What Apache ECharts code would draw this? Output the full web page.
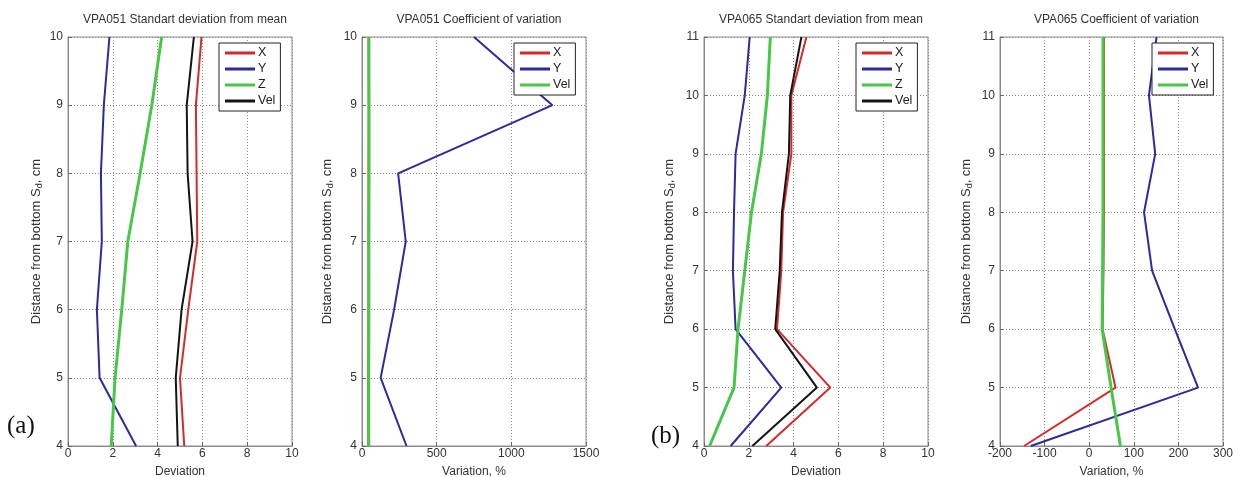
<!DOCTYPE html>
<html>
<head>
<meta charset="utf-8">
<script src="https://cdn.jsdelivr.net/npm/echarts@6/dist/echarts.min.js"></script>
<style>
html,body{margin:0;padding:0;background:#fff}
#main{width:1241px;height:477px}
</style>
</head>
<body>
<div id="main"></div>
<script>
// distance from bottom, cm
var heightA = [4, 5, 6, 7, 8, 9, 10];
var heightB = [4, 5, 6, 7, 8, 9, 10, 11];

// (a) VPA051 standard deviation
var sdA_X   = [5.19, 5.00, 5.37, 5.77, 5.74, 5.71, 5.96];
var sdA_Y   = [3.04, 1.41, 1.29, 1.51, 1.47, 1.60, 1.85];
var sdA_Z   = [1.93, 2.10, 2.40, 2.67, 3.22, 3.74, 4.18];
var sdA_Vel = [4.90, 4.81, 5.07, 5.56, 5.34, 5.30, 5.62];
// (a) VPA051 coefficient of variation, %
var cvA_X   = [42, 42, 43, 43, 44, 45, 44];
var cvA_Y   = [298, 125, 215, 293, 242, 1275, 750];
var cvA_Vel = [45, 45, 46, 46, 47, 47, 46];

// (b) VPA065 standard deviation
var sdB_X   = [2.78, 5.64, 3.26, 3.45, 3.53, 3.90, 3.90, 4.57];
var sdB_Y   = [1.19, 3.45, 1.41, 1.29, 1.34, 1.41, 1.82, 2.04];
var sdB_Z   = [0.25, 1.34, 1.52, 1.82, 2.12, 2.56, 2.83, 2.96];
var sdB_Vel = [2.16, 5.04, 3.18, 3.38, 3.48, 3.79, 3.85, 4.35];
// (b) VPA065 coefficient of variation, %
var cvB_X   = [-146, 59, 30, 32, 33, 33, 33, 33];
var cvB_Y   = [-131, 244, 192, 141, 123, 148, 134, 151];
var cvB_Vel = [70, 49, 29, 30, 31, 31, 31, 31];

var titles = [
    'VPA051 Standart deviation from mean',
    'VPA051 Coefficient of variation',
    'VPA065 Standart deviation from mean',
    'VPA065 Coefficient of variation'
];
var xNames = ['Deviation', 'Variation, %', 'Deviation', 'Variation, %'];

var RED = '#d42a2a', BLUE = '#2b2b9c', GREEN = '#46c846', BLACK = '#141414';
var FONT = 'Liberation Sans, Arial, sans-serif';

var chart = echarts.init(document.getElementById('main'));

// grid positions (px)
var grids = [
    {left: 68,  top: 37, width: 224, height: 409, yGap: 24},
    {left: 362, top: 37, width: 224, height: 409, yGap: 27},
    {left: 704, top: 37, width: 224, height: 409, yGap: 27},
    {left: 1000, top: 37, width: 223, height: 409, yGap: 26}
];
var xRanges = [[0, 10, 2], [0, 1500, 500], [0, 10, 2], [-200, 300, 100]];
var yRanges = [[4, 10], [4, 10], [4, 11], [4, 11]];

function mkLine(name, color, width, xs, ys, idx) {
    return {
        type: 'line',
        name: name,
        xAxisIndex: idx,
        yAxisIndex: idx,
        data: ys.map(function (y, i) { return [xs[i], y]; }),
        showSymbol: false,
        symbol: 'none',
        animation: false,
        lineStyle: {color: color, width: width},
        itemStyle: {color: color}
    };
}

var series = [
    mkLine('X#1', RED, 2, sdA_X, heightA, 0),
    mkLine('Y#1', BLUE, 2, sdA_Y, heightA, 0),
    mkLine('Z#1', GREEN, 3, sdA_Z, heightA, 0),
    mkLine('Vel#1', BLACK, 2, sdA_Vel, heightA, 0),

    mkLine('X#2', RED, 2, cvA_X, heightA, 1),
    mkLine('Y#2', BLUE, 2, cvA_Y, heightA, 1),
    mkLine('Vel#2', GREEN, 3, cvA_Vel, heightA, 1),

    mkLine('X#3', RED, 2, sdB_X, heightB, 2),
    mkLine('Y#3', BLUE, 2, sdB_Y, heightB, 2),
    mkLine('Z#3', GREEN, 3, sdB_Z, heightB, 2),
    mkLine('Vel#3', BLACK, 2, sdB_Vel, heightB, 2),

    mkLine('X#4', RED, 2, cvB_X, heightB, 3),
    mkLine('Y#4', BLUE, 2, cvB_Y, heightB, 3),
    mkLine('Vel#4', GREEN, 3, cvB_Vel, heightB, 3)
];

var gridOpt = [], xAxes = [], yAxes = [], titleOpt = [], legends = [];
var dotted = {show: true, lineStyle: {color: '#8a8a8a', type: [1, 2], width: 1}};
var plain = function (v) { return String(v); };

grids.forEach(function (g, i) {
    gridOpt.push({
        left: g.left, top: g.top, width: g.width, height: g.height,
        containLabel: false, outerBoundsMode: 'none',
        show: true, borderColor: '#8c8c8c', borderWidth: 1, backgroundColor: '#fff'
    });
    xAxes.push({
        type: 'value', gridIndex: i,
        min: xRanges[i][0], max: xRanges[i][1], interval: xRanges[i][2],
        name: xNames[i], nameLocation: 'middle', nameGap: 20,
        nameTextStyle: {fontFamily: FONT, fontSize: 12, color: '#333'},
        axisLine: {show: true, onZero: false, lineStyle: {color: '#8c8c8c'}},
        axisTick: {show: true, inside: true, length: 4, lineStyle: {color: '#666'}},
        axisLabel: {fontFamily: FONT, fontSize: 12, color: '#333', margin: 2, formatter: plain},
        splitLine: dotted
    });
    yAxes.push({
        type: 'value', gridIndex: i,
        min: yRanges[i][0], max: yRanges[i][1], interval: 1,
        name: 'Distance from bottom S{s|d}, cm', nameLocation: 'middle', nameGap: g.yGap, nameRotate: 90,
        nameTextStyle: {
            fontFamily: FONT, fontSize: 13, color: '#333',
            rich: {s: {fontFamily: FONT, fontSize: 9, color: '#333', verticalAlign: 'bottom', padding: [6, 0, 0, 0]}}
        },
        axisLine: {show: true, onZero: false, lineStyle: {color: '#8c8c8c'}},
        axisTick: {show: true, inside: true, length: 4, lineStyle: {color: '#666'}},
        axisLabel: {fontFamily: FONT, fontSize: 12, color: '#333', margin: 5, formatter: plain},
        splitLine: dotted
    });
    titleOpt.push({
        text: titles[i],
        left: g.left + g.width / 2, top: 9, textAlign: 'center',
        textStyle: {fontFamily: FONT, fontSize: 12, fontWeight: 'normal', color: '#333'}
    });
});

// legends, one per panel
var legendPos = [
    {left: 219, names: ['X#1', 'Y#1', 'Z#1', 'Vel#1']},
    {left: 514, names: ['X#2', 'Y#2', 'Vel#2']},
    {left: 856, names: ['X#3', 'Y#3', 'Z#3', 'Vel#3']},
    {left: 1152, names: ['X#4', 'Y#4', 'Vel#4']}
];
legendPos.forEach(function (l) {
    legends.push({
        data: l.names,
        left: l.left, top: 43,
        orient: 'vertical',
        icon: 'rect', itemWidth: 30, itemHeight: 3, itemGap: 2,
        padding: [3, 5, 3, 6],
        borderColor: '#222', borderWidth: 1, backgroundColor: '#fff',
        selectedMode: false,
        formatter: function (name) { return name.split('#')[0]; },
        textStyle: {fontFamily: FONT, fontSize: 12.5, color: '#222', lineHeight: 14, padding: [0, 0, 0, -2]}
    });
});

chart.setOption({
    animation: false,
    backgroundColor: '#fff',
    title: titleOpt,
    legend: legends,
    grid: gridOpt,
    xAxis: xAxes,
    yAxis: yAxes,
    series: series,
    graphic: [
        {type: 'text', left: 7, top: 414, style: {text: '(a)', fontFamily: 'Liberation Serif, Times New Roman, serif', fontSize: 25, fill: '#111'}},
        {type: 'text', left: 651, top: 424, style: {text: '(b)', fontFamily: 'Liberation Serif, Times New Roman, serif', fontSize: 25, fill: '#111'}}
    ]
});
</script>
</body>
</html>
